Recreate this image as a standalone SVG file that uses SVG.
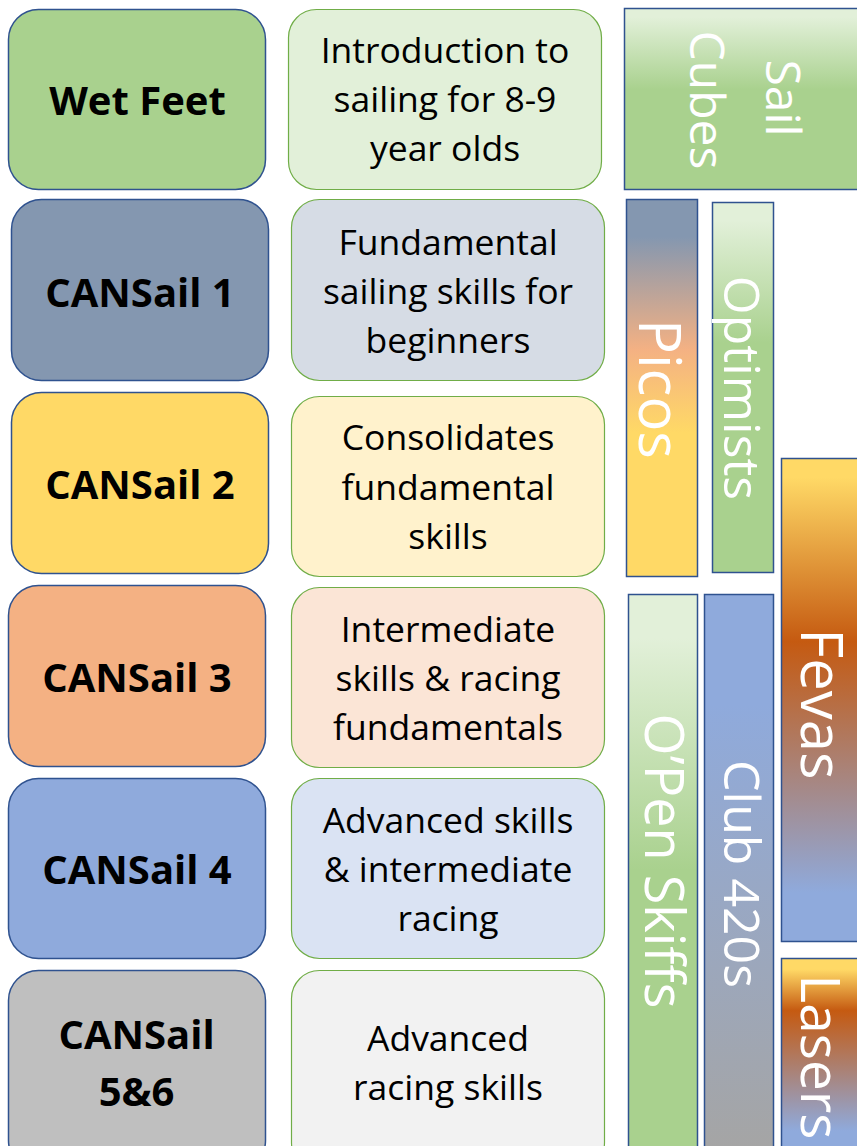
<svg xmlns="http://www.w3.org/2000/svg" width="857" height="1146" viewBox="0 0 857 1146">
<defs>
<style>
.lvl{stroke:#2F528F;stroke-width:1.5}
.desc{stroke:#70AD47;stroke-width:1.2}
.bar{stroke:#2F528F;stroke-width:1.5}
.lt{font-family:"Open Sans","Liberation Sans",sans-serif;font-weight:bold;font-size:40px;fill:#000;text-anchor:middle}
.dt{font-family:"Open Sans","Liberation Sans",sans-serif;font-size:35.5px;fill:#000;text-anchor:middle}
.bt{font-family:"Open Sans","Liberation Sans",sans-serif;font-size:54px;fill:#fff;text-anchor:middle}
</style>
<linearGradient id="gCubes" gradientUnits="userSpaceOnUse" x1="0" y1="8" x2="0" y2="189"><stop offset="0.05" stop-color="#E2F0D9"/><stop offset="0.45" stop-color="#A9D18E"/></linearGradient>
<linearGradient id="gOpt" gradientUnits="userSpaceOnUse" x1="0" y1="202" x2="0" y2="572"><stop offset="0.05" stop-color="#E2F0D9"/><stop offset="0.38" stop-color="#A9D18E"/></linearGradient>
<linearGradient id="gOpen" gradientUnits="userSpaceOnUse" x1="0" y1="594" x2="0" y2="1146"><stop offset="0.08" stop-color="#E2F0D9"/><stop offset="0.5" stop-color="#A9D18E"/></linearGradient>
<linearGradient id="gPicos" gradientUnits="userSpaceOnUse" x1="0" y1="199" x2="0" y2="576"><stop offset="0.1" stop-color="#8497B0"/><stop offset="0.4" stop-color="#F4B183"/><stop offset="0.62" stop-color="#FFD966"/></linearGradient>
<linearGradient id="gFevas" gradientUnits="userSpaceOnUse" x1="0" y1="458" x2="0" y2="941"><stop offset="0.04" stop-color="#FFD966"/><stop offset="0.38" stop-color="#C55A11"/><stop offset="0.9" stop-color="#8FAADC"/></linearGradient>
<linearGradient id="gLasers" gradientUnits="userSpaceOnUse" x1="0" y1="958" x2="0" y2="1146"><stop offset="0.06" stop-color="#FFD966"/><stop offset="0.28" stop-color="#C55A11"/><stop offset="0.92" stop-color="#8FAADC"/></linearGradient>
<linearGradient id="gClub" gradientUnits="userSpaceOnUse" x1="0" y1="594" x2="0" y2="1146"><stop offset="0.2" stop-color="#8FAADC"/><stop offset="1" stop-color="#A5A5A5"/></linearGradient>
</defs>
<rect width="857" height="1146" fill="#fff"/>

<g id="wetfeet"><rect class="lvl" x="8.5" y="9.5" width="257" height="180" rx="30" fill="#A9D18E"/><text class="lt" x="137.5" y="115">Wet Feet</text></g>
<g id="cansail1"><rect class="lvl" x="11.5" y="199.5" width="257" height="181" rx="30" fill="#8497B0"/><text class="lt" x="140" y="307">CANSail 1</text></g>
<g id="cansail2"><rect class="lvl" x="11.5" y="392.5" width="257" height="181" rx="30" fill="#FFD966"/><text class="lt" x="140" y="499">CANSail 2</text></g>
<g id="cansail3"><rect class="lvl" x="8.5" y="585.5" width="257" height="181" rx="30" fill="#F4B183"/><text class="lt" x="137" y="692">CANSail 3</text></g>
<g id="cansail4"><rect class="lvl" x="8.5" y="778.5" width="257" height="180" rx="30" fill="#8FAADC"/><text class="lt" x="137" y="884">CANSail 4</text></g>
<g id="cansail56"><rect class="lvl" x="8.5" y="970.5" width="257" height="200" rx="30" fill="#BFBFBF"/><text class="lt" x="136.5" y="1049">CANSail</text><text class="lt" x="136.5" y="1106">5&amp;6</text></g>

<g id="desc1"><rect class="desc" x="288.5" y="9.5" width="313" height="180" rx="28" fill="#E2F0D9"/><text class="dt" x="445" y="63">Introduction to</text><text class="dt" x="445" y="112">sailing for 8-9</text><text class="dt" x="445" y="161">year olds</text></g>
<g id="desc2"><rect class="desc" x="291.5" y="199.5" width="313" height="181" rx="28" fill="#D6DCE5"/><text class="dt" x="448" y="255">Fundamental</text><text class="dt" x="448" y="304">sailing skills for</text><text class="dt" x="448" y="353">beginners</text></g>
<g id="desc3"><rect class="desc" x="291.5" y="396.5" width="313" height="180" rx="28" fill="#FFF2CC"/><text class="dt" x="448" y="450">Consolidates</text><text class="dt" x="448" y="500">fundamental</text><text class="dt" x="448" y="549">skills</text></g>
<g id="desc4"><rect class="desc" x="291.5" y="587.5" width="313" height="180" rx="28" fill="#FBE5D6"/><text class="dt" x="448" y="642">Intermediate</text><text class="dt" x="448" y="691">skills &amp; racing</text><text class="dt" x="448" y="740">fundamentals</text></g>
<g id="desc5"><rect class="desc" x="291.5" y="778.5" width="313" height="180" rx="28" fill="#DAE3F3"/><text class="dt" x="448" y="833">Advanced skills</text><text class="dt" x="448" y="882">&amp; intermediate</text><text class="dt" x="448" y="931">racing</text></g>
<g id="desc6"><rect class="desc" x="291.5" y="970.5" width="313" height="200" rx="28" fill="#F2F2F2"/><text class="dt" x="448" y="1051">Advanced</text><text class="dt" x="448" y="1100">racing skills</text></g>

<g id="sailcubes"><rect class="bar" x="624.5" y="8.5" width="250" height="181" fill="url(#gCubes)"/>
<text class="bt" style="font-size:48px" transform="translate(766,98) rotate(90)">Sail</text>
<text class="bt" style="font-size:48px" transform="translate(690,100) rotate(90)">Cubes</text></g>
<g id="picos"><rect class="bar" x="626.5" y="199.5" width="71" height="377" fill="url(#gPicos)"/>
<text class="bt" style="font-size:58px" transform="translate(639,389) rotate(90)">Picos</text></g>
<g id="optimists"><rect class="bar" x="712.5" y="202.5" width="61" height="370" fill="url(#gOpt)"/>
<text class="bt" style="font-size:50px" transform="translate(724,388) rotate(90)">Optimists</text></g>
<g id="fevas"><rect class="bar" x="781.5" y="458.5" width="90" height="483" fill="url(#gFevas)"/>
<text class="bt" style="font-size:58px" transform="translate(801,704) rotate(90)">Fevas</text></g>
<g id="openskiffs"><rect class="bar" x="628.5" y="594.5" width="69" height="570" fill="url(#gOpen)"/>
<text class="bt" style="font-size:54px" transform="translate(645,861) rotate(90)">O’Pen Skiffs</text></g>
<g id="club420"><rect class="bar" x="704.5" y="594.5" width="69" height="570" fill="url(#gClub)"/>
<text class="bt" style="font-size:50px" transform="translate(724,874) rotate(90)">Club 420s</text></g>
<g id="lasers"><rect class="bar" x="781.5" y="958.5" width="90" height="210" fill="url(#gLasers)"/>
<text class="bt" style="font-size:55px" transform="translate(801,1057) rotate(90)">Lasers</text></g>
<g id="connectors"></g>
</svg>
